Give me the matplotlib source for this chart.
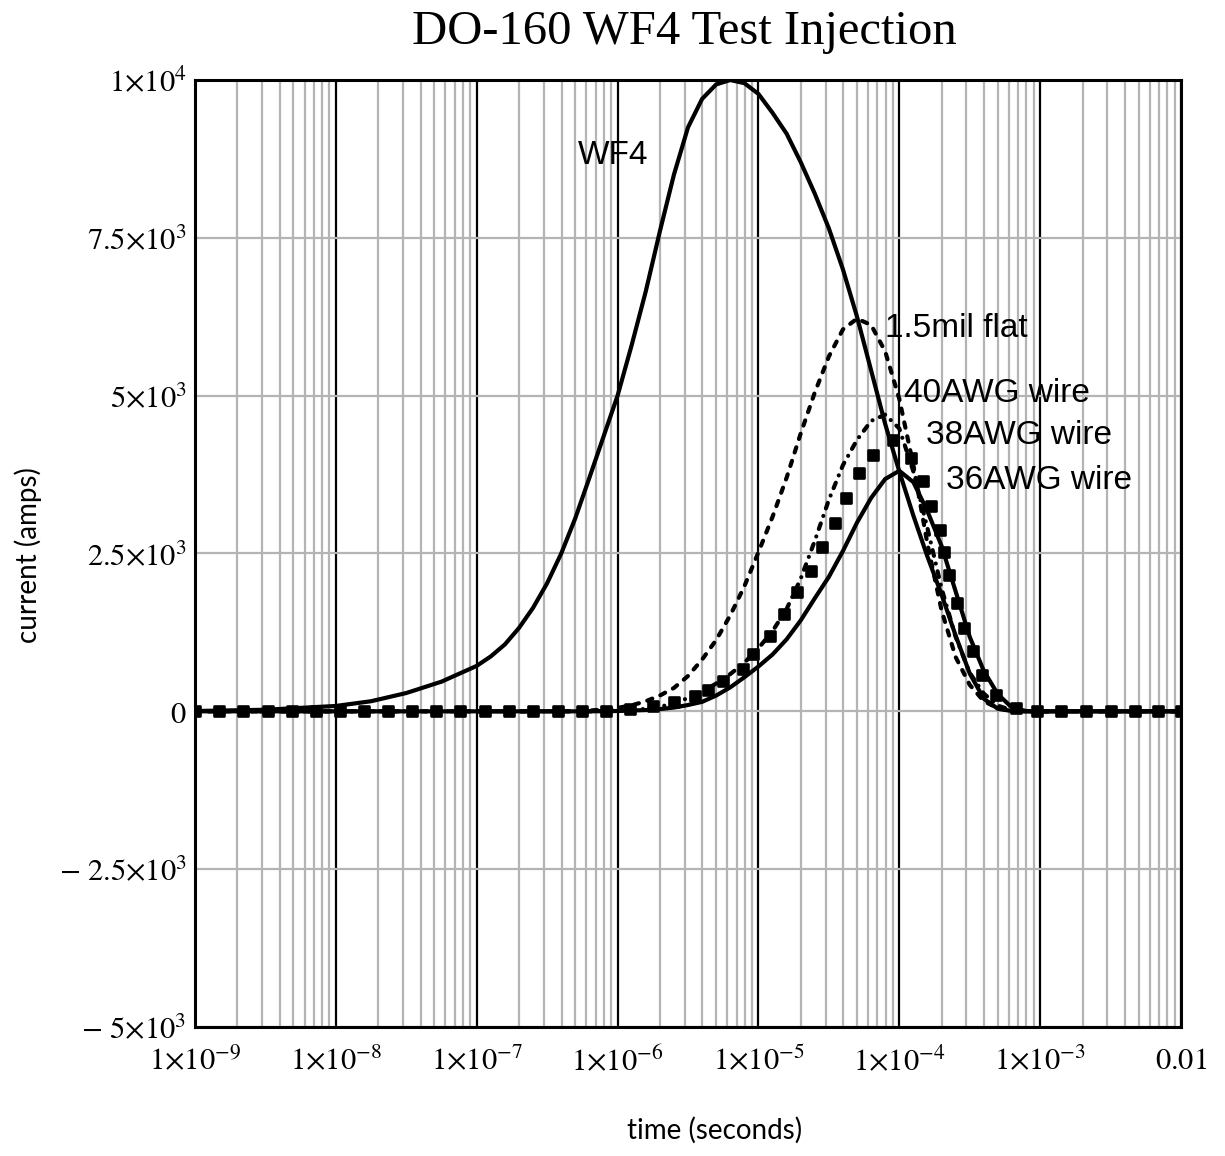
import numpy as np
import matplotlib.pyplot as plt
from matplotlib.markers import MarkerStyle
from matplotlib.ticker import LogLocator, NullFormatter

plt.rcParams['mathtext.fontset'] = 'stix'
plt.rcParams['font.family'] = ['Liberation Sans', 'DejaVu Sans']

# values: log10(time in s) and current in amps
wf4_logt = [-9.0, -8.5, -8.0, -7.75, -7.5, -7.25, -7.0, -6.9, -6.8, -6.7, -6.6, -6.5,
            -6.4, -6.3, -6.2, -6.1, -6.0, -5.9, -5.8, -5.7, -5.6, -5.5, -5.4, -5.3,
            -5.2, -5.1, -5.0, -4.9, -4.8, -4.7, -4.6, -4.5, -4.4, -4.3, -4.2, -4.1,
            -4.0, -3.9, -3.8, -3.7, -3.6, -3.5, -3.4, -3.3, -3.2, -3.1, -2.0]
wf4_amps = [5, 25, 85, 160, 290, 470, 720, 870, 1060, 1320, 1640, 2030,
            2500, 3060, 3700, 4350, 5000, 5800, 6650, 7600, 8500, 9250, 9700, 9930,
            10000, 9950, 9780, 9480, 9150, 8700, 8200, 7650, 7000, 6250, 5400, 4550,
            3800, 3100, 2450, 1850, 1200, 600, 200, 40, 5, 0, 0]

flat_logt = [-9.0, -6.5, -6.3, -6.2, -6.1, -6.0, -5.9, -5.8, -5.7, -5.6, -5.5, -5.4,
             -5.3, -5.2, -5.1, -5.0, -4.9, -4.8, -4.7, -4.6, -4.5, -4.4, -4.3, -4.2,
             -4.1, -4.0, -3.9, -3.8, -3.7, -3.6, -3.5, -3.4, -3.3, -3.2, -3.1, -2.0]
flat_amps = [0, 0, 5, 12, 30, 55, 95, 160, 250, 370, 560, 820,
             1130, 1520, 1980, 2520, 3080, 3700, 4400, 5050, 5620, 6050, 6220, 6120,
             5700, 4950, 3900, 2650, 1600, 860, 420, 160, 50, 5, 0, 0]

awg40_logt = [-9.0, -6.2, -6.0, -5.9, -5.8, -5.7, -5.6, -5.5, -5.4, -5.3, -5.2, -5.1,
              -5.0, -4.9, -4.8, -4.7, -4.6, -4.5, -4.4, -4.3, -4.2, -4.1, -4.0, -3.9,
              -3.8, -3.7, -3.6, -3.5, -3.4, -3.3, -3.2, -3.1, -2.0]
awg40_amps = [0, 0, 10, 20, 40, 70, 130, 210, 310, 440, 590, 770,
              1000, 1270, 1620, 2100, 2700, 3350, 3900, 4300, 4600, 4700, 4480, 3800,
              2900, 1950, 1180, 610, 280, 90, 15, 0, 0]

awg38_logt = [-9.0, -8.83, -8.66, -8.48, -8.31, -8.14, -7.97, -7.8, -7.63, -7.46, -7.29,
              -7.12, -6.94, -6.77, -6.6, -6.42, -6.25, -6.08, -5.91, -5.75, -5.6, -5.45,
              -5.36, -5.25, -5.11, -5.036, -4.917, -4.82, -4.726, -4.63, -4.55, -4.457,
              -4.38, -4.286, -4.186, -4.043, -3.917, -3.833, -3.774, -3.714, -3.68,
              -3.647, -3.588, -3.54, -3.48, -3.41, -3.315, -3.17, -3.02, -2.85, -2.675,
              -2.5, -2.33, -2.16, -2.0]
awg38_amps = [0, 0, 0, 0, 0, 0, 0, 0, 0, 0, 0,
              0, 0, 0, 0, 0, 0, 10, 30, 80, 150, 250,
              330, 480, 675, 910, 1200, 1545, 1890, 2215, 2610, 2985,
              3380, 3770, 4060, 4290, 4020, 3655, 3260, 2865, 2520,
              2160, 1715, 1320, 950, 580, 265, 53, 0, 0, 0,
              0, 0, 0, 0]

awg36_logt = [-9.0, -6.2, -6.0, -5.8, -5.7, -5.6, -5.5, -5.4, -5.3, -5.2, -5.1, -5.0,
              -4.9, -4.8, -4.7, -4.6, -4.5, -4.4, -4.3, -4.2, -4.1, -4.0, -3.9, -3.8,
              -3.7, -3.6, -3.5, -3.4, -3.3, -3.2, -3.1, -3.0, -2.0]
awg36_amps = [0, 0, 5, 20, 35, 60, 100, 150, 250, 380, 540, 710,
              900, 1140, 1440, 1790, 2130, 2540, 2990, 3380, 3680, 3810, 3630, 3170,
              2620, 1900, 1180, 640, 270, 60, 5, 0, 0]

labels = ['WF4', '1.5mil flat', '40AWG wire', '38AWG wire', '36AWG wire']
label_logt = [-6.28, -4.10, -3.97, -3.81, -3.67]
label_amps = [8800, 6060, 5030, 4370, 3655]

xtick_vals = [1e-9, 1e-8, 1e-7, 1e-6, 1e-5, 1e-4, 1e-3, 1e-2]
xtick_labels = [r'$1{\times}10^{-9}$', r'$1{\times}10^{-8}$', r'$1{\times}10^{-7}$',
                r'$1{\times}10^{-6}$', r'$1{\times}10^{-5}$', r'$1{\times}10^{-4}$',
                r'$1{\times}10^{-3}$', r'$0.01$']
ytick_vals = [-5000, -2500, 0, 2500, 5000, 7500, 10000]
ytick_labels = [r'$-\ 5{\times}10^{3}$', r'$-\ 2.5{\times}10^{3}$', r'$0$',
                r'$2.5{\times}10^{3}$', r'$5{\times}10^{3}$', r'$7.5{\times}10^{3}$',
                r'$1{\times}10^{4}$']

fig = plt.figure(figsize=(12.25, 11.56), dpi=100)
ax = fig.add_axes([195 / 1225, 1 - 1027 / 1156, (1181 - 195) / 1225, (1027 - 80) / 1156])

t = lambda v: 10 ** np.array(v)

lw = 3.0
ax.plot(t(wf4_logt), wf4_amps, color='black', lw=lw, solid_capstyle='round',
        solid_joinstyle='round', zorder=5)
ax.plot(t(awg36_logt), awg36_amps, color='black', lw=lw, solid_capstyle='round',
        solid_joinstyle='round', zorder=5)
ax.plot(t(flat_logt), flat_amps, color='black', lw=lw, linestyle=(0, (1.3, 2.1)),
        dash_capstyle='round', zorder=5)
ax.plot(t(awg40_logt), awg40_amps, color='black', lw=lw,
        linestyle=(0, (1.4, 1.9, 0.01, 1.9)), dash_capstyle='round', zorder=5)
ax.plot(t(awg38_logt), awg38_amps, color='black', linestyle='none',
        marker=MarkerStyle('s', joinstyle='round'), markersize=7.2,
        markeredgewidth=1.9, zorder=6)

for txt, lx, ly in zip(labels, label_logt, label_amps):
    ax.text(10 ** lx, ly, txt, fontsize=24, va='center', ha='left', zorder=7)

ax.set_xscale('log')
ax.set_xlim(1e-9, 1e-2)
ax.set_ylim(-5000, 10000)
ax.xaxis.set_minor_locator(LogLocator(base=10, subs=np.arange(2, 10), numticks=20))
ax.xaxis.set_minor_formatter(NullFormatter())
ax.set_xticks(xtick_vals)
ax.set_xticklabels(xtick_labels)
ax.set_yticks(ytick_vals)
ax.set_yticklabels(ytick_labels)

ax.grid(which='minor', axis='x', color='#b4b4b4', lw=1.6)
ax.grid(which='major', axis='x', color='black', lw=1.6)
ax.grid(which='major', axis='y', color='#b4b4b4', lw=1.6)
ax.set_axisbelow(True)

ax.tick_params(which='both', length=0, labelsize=22)
ax.tick_params(axis='x', pad=14)
ax.tick_params(axis='y', pad=6)
for s in ax.spines.values():
    s.set_linewidth(2.2)
    s.set_zorder(8)

fig.text(0.559, 0.972, 'DO-160 WF4 Test Injection', family='Liberation Serif',
         fontsize=35, ha='center', va='center')
fig.text(715 / 1225, 1 - 1130 / 1156, 'time (seconds)', family='Lato',
         fontsize=20, ha='center', va='center')
fig.text(28 / 1225, 1 - 555 / 1156, 'current (amps)', family='Lato',
         fontsize=20, ha='center', va='center', rotation=90)

fig.savefig('out.png', dpi=100)
